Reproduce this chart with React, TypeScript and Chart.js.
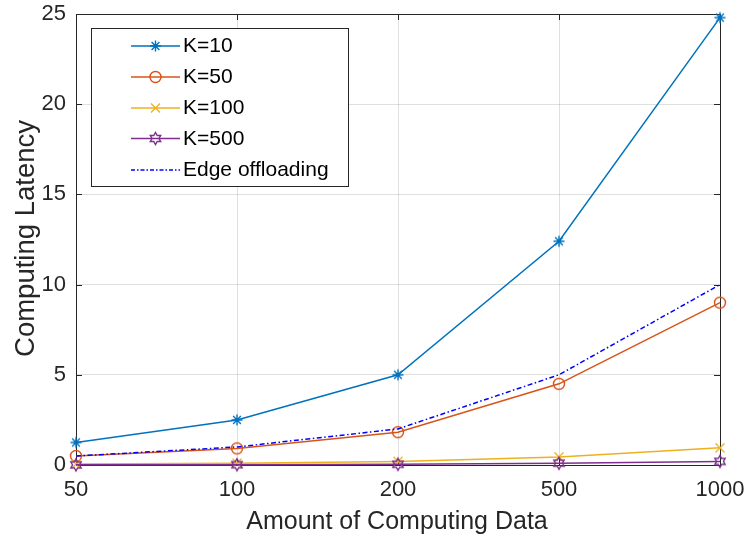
import React, { useEffect, useRef } from "react";
import { Chart, registerables } from "chart.js";
Chart.register(...registerables);

const categories = ["50", "100", "200", "500", "1000"];
const k10 = [1.25, 2.5, 5.0, 12.4, 24.8];
const k50 = [0.5, 0.92, 1.82, 4.5, 9.0];
const k100 = [0.05, 0.1, 0.2, 0.45, 0.95];
const k500 = [0.01, 0.02, 0.04, 0.1, 0.2];
const edge = [0.5, 1.0, 2.0, 5.0, 10.0];
const seriesLabels = ["K=10", "K=50", "K=100", "K=500", "Edge offloading"];
const yMin = 0;
const yMax = 25;
const yStep = 5;
const xTitle = "Amount of Computing Data";
const yTitle = "Computing Latency";

const FONT = "'Liberation Sans', Arial, Helvetica, sans-serif";
const TXT = "#262626";
const COLORS = ["#0072BD", "#D95319", "#EDB120", "#7E2F8E", "#0000FF"];
const MARKERS = ["star", "circle", "crossRot", "hexagram", "none"];
const DASH = [5, 2.5, 1.5, 2.5];

function drawMarker(ctx: CanvasRenderingContext2D, kind: string, x: number, y: number, color: string) {
  ctx.save();
  ctx.strokeStyle = color;
  ctx.lineWidth = 1.4;
  ctx.setLineDash([]);
  ctx.beginPath();
  if (kind === "star") {
    const r = 5.5;
    for (let i = 0; i < 4; i++) {
      const a = (i * Math.PI) / 4;
      ctx.moveTo(x - r * Math.cos(a), y - r * Math.sin(a));
      ctx.lineTo(x + r * Math.cos(a), y + r * Math.sin(a));
    }
    ctx.stroke();
  } else if (kind === "circle") {
    ctx.arc(x, y, 5.5, 0, Math.PI * 2);
    ctx.stroke();
  } else if (kind === "crossRot") {
    const r = 4.5;
    ctx.moveTo(x - r, y - r);
    ctx.lineTo(x + r, y + r);
    ctx.moveTo(x - r, y + r);
    ctx.lineTo(x + r, y - r);
    ctx.stroke();
  } else if (kind === "hexagram") {
    const r = 6;
    const pts: number[][] = [];
    for (let i = 0; i < 12; i++) {
      const a = -Math.PI / 2 + (i * Math.PI) / 6;
      const rr = i % 2 === 0 ? r : r * 0.577;
      pts.push([x + rr * Math.cos(a), y + rr * Math.sin(a)]);
    }
    pts.forEach((p, i) => (i === 0 ? ctx.moveTo(p[0], p[1]) : ctx.lineTo(p[0], p[1])));
    ctx.closePath();
    ctx.stroke();
  }
  ctx.restore();
}

function markerCanvas(kind: string, color: string) {
  const c = document.createElement("canvas");
  c.width = 16;
  c.height = 16;
  const ctx = c.getContext("2d")!;
  drawMarker(ctx, kind, 8, 8, color);
  return c;
}

const frame = {
  id: "frame",
  beforeDatasetsDraw(chart: any) {
    const { ctx, chartArea: a, scales } = chart;
    ctx.save();
    ctx.strokeStyle = TXT;
    ctx.lineWidth = 1;
    ctx.strokeRect(Math.round(a.left) + 0.5, Math.round(a.top) + 0.5, Math.round(a.right - a.left), Math.round(a.bottom - a.top));
    const L = 6;
    ctx.beginPath();
    scales.x.ticks.forEach((_t: any, i: number) => {
      const px = Math.round(scales.x.getPixelForTick(i)) + 0.5;
      ctx.moveTo(px, a.bottom);
      ctx.lineTo(px, a.bottom - L);
      ctx.moveTo(px, a.top);
      ctx.lineTo(px, a.top + L);
    });
    scales.y.ticks.forEach((_t: any, i: number) => {
      const py = Math.round(scales.y.getPixelForTick(i)) + 0.5;
      ctx.moveTo(a.left, py);
      ctx.lineTo(a.left + L, py);
      ctx.moveTo(a.right, py);
      ctx.lineTo(a.right - L, py);
    });
    ctx.stroke();
    ctx.restore();
  },
  afterDraw(chart: any) {
    const { ctx } = chart;
    ctx.save();
    // titles
    ctx.fillStyle = TXT;
    ctx.font = `25px ${FONT}`;
    ctx.textAlign = "center";
    ctx.textBaseline = "alphabetic";
    ctx.fillText(xTitle, 397, 529);
    ctx.save();
    ctx.font = `27.5px ${FONT}`;
    ctx.translate(34, 238.5);
    ctx.rotate(-Math.PI / 2);
    ctx.fillText(yTitle, 0, 0);
    ctx.restore();
    // legend
    const bx = 91, by = 28, bw = 257, bh = 158;
    ctx.fillStyle = "#ffffff";
    ctx.fillRect(bx, by, bw, bh);
    ctx.strokeStyle = TXT;
    ctx.lineWidth = 1;
    ctx.strokeRect(bx + 0.5, by + 0.5, bw, bh);
    const rows = [46, 77, 108, 138.5, 170];
    seriesLabels.forEach((lab, i) => {
      const y = rows[i];
      ctx.save();
      ctx.strokeStyle = COLORS[i];
      ctx.lineWidth = 1.5;
      ctx.setLineDash(i === 4 ? [4, 2, 1.5, 2] : []);
      ctx.beginPath();
      ctx.moveTo(131, y);
      ctx.lineTo(180, y);
      ctx.stroke();
      ctx.restore();
      drawMarker(ctx, MARKERS[i], 155.5, y, COLORS[i]);
      ctx.fillStyle = "#000000";
      ctx.font = `21px ${FONT}`;
      ctx.textAlign = "left";
      ctx.textBaseline = "middle";
      ctx.fillText(lab, 183, y + 0.5);
    });
    ctx.restore();
  },
};

export default function App() {
  const ref = useRef<HTMLCanvasElement | null>(null);
  useEffect(() => {
    document.body.style.margin = "0";
    const series = [k10, k50, k100, k500, edge];
    const datasets = series.map((d, i) => ({
      label: seriesLabels[i],
      data: d,
      borderColor: COLORS[i],
      backgroundColor: COLORS[i],
      borderWidth: 1.5,
      borderDash: i === 4 ? DASH : [],
      pointStyle: MARKERS[i] === "none" ? false : (markerCanvas(MARKERS[i], COLORS[i]) as any),
      pointRadius: MARKERS[i] === "none" ? 0 : 6,
      tension: 0,
      fill: false,
      clip: false as any,
      order: 4 - i,
    }));
    const chart = new Chart(ref.current!, {
      type: "line",
      data: { labels: categories, datasets },
      options: {
        animation: false,
        responsive: false,
        devicePixelRatio: 1,
        layout: { padding: { top: 14, right: 26, left: 0, bottom: 0 } },
        plugins: { legend: { display: false }, tooltip: { enabled: false } },
        scales: {
          x: {
            type: "category",
            offset: false,
            grid: { color: "rgba(38,38,38,0.15)", drawTicks: false, offset: false },
            border: { display: false },
            ticks: { color: TXT, font: { family: FONT, size: 22 }, padding: 12, maxRotation: 0, autoSkip: false },
            afterFit: (s: any) => {
              s.height = 73;
              s.paddingLeft = 0;
              s.paddingRight = 0;
            },
          },
          y: {
            min: yMin,
            max: yMax,
            grid: { color: "rgba(38,38,38,0.15)", drawTicks: false },
            border: { display: false },
            ticks: { stepSize: yStep, color: TXT, font: { family: FONT, size: 22 }, padding: 10 },
            afterFit: (s: any) => {
              s.width = 76;
              s.paddingTop = 0;
              s.paddingBottom = 0;
            },
          },
        },
      },
      plugins: [frame],
    });
    return () => chart.destroy();
  }, []);
  return (
    <div style={{ position: "absolute", left: 0, top: 0, width: 746, height: 538, background: "#fff" }}>
      <canvas ref={ref} width={746} height={538} />
    </div>
  );
}
